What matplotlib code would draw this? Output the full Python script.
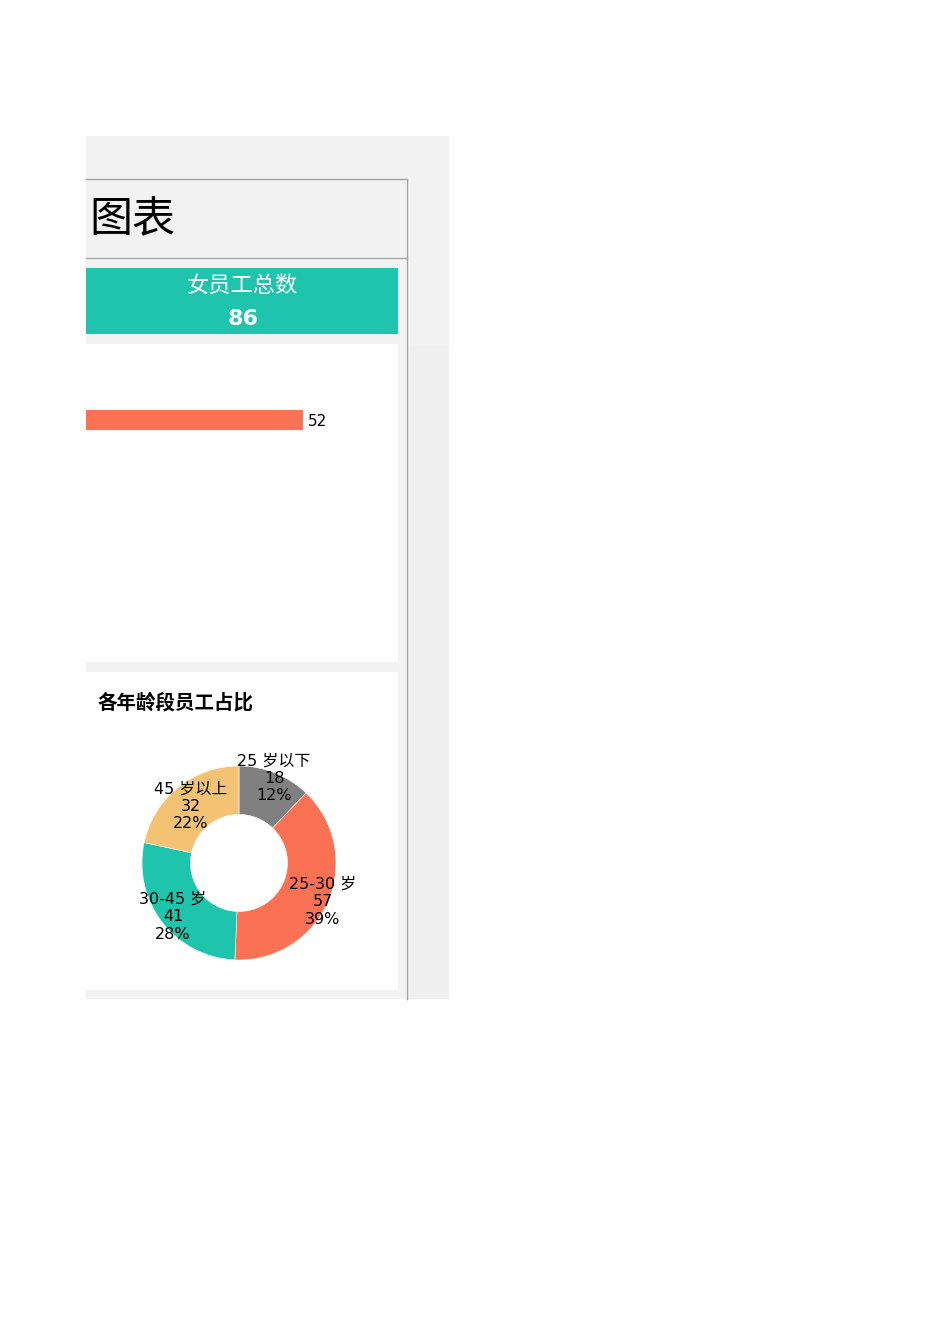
import matplotlib
matplotlib.use("Agg")
import matplotlib.pyplot as plt
from matplotlib.patches import Rectangle
from matplotlib.lines import Line2D
import numpy as np

plt.rcParams['font.family'] = ['DejaVu Sans', 'Noto Sans CJK SC']

# Données
title_text = "图表"
kpi_label = "女员工总数"
kpi_value = 86
bar_categories = ["女员工"]
bar_values = [52]
pie_title = "各年龄段员工占比"
age_labels = ["25 岁以下", "25-30 岁", "30-45 岁", "45 岁以上"]
age_counts = [18, 57, 41, 32]

W, H = 950, 1344
fig = plt.figure(figsize=(W / 100, H / 100), dpi=100)
fig.patch.set_facecolor("white")


def fx(px):
    return px / W


def fy(py):
    return 1 - py / H


def box(x0, y0, x1, y1, color, z=0):
    fig.patches.append(Rectangle((fx(x0), fy(y1)), fx(x1) - fx(x0), fy(y0) - fy(y1),
                                 transform=fig.transFigure, facecolor=color,
                                 edgecolor="none", zorder=z))


def hline(x0, x1, y, color="#a6a6a6"):
    fig.lines.append(Line2D([fx(x0), fx(x1)], [fy(y), fy(y)], transform=fig.transFigure,
                            color=color, lw=1.0, zorder=3))


# Fond gris du tableau de bord
box(86, 136, 449, 999, "#f2f2f2")
box(407, 345, 449, 999, "#f0f0f0", z=0.5)
hline(86, 407, 179)
hline(86, 407, 258)
fig.lines.append(Line2D([fx(407), fx(407)], [fy(179), fy(999)], transform=fig.transFigure,
                        color="#a6a6a6", lw=1.0, zorder=3))

# Titre
fig.text(fx(89), fy(220), title_text, fontsize=31, va="center", ha="left",
         family=['Noto Sans CJK SC'], color="black")

# Bandeau KPI
box(86, 268, 398, 334, "#1fc4ad", z=1)
fig.text(fx(243), fy(285), kpi_label, fontsize=16, color="white", ha="center", va="center",
         family=['Noto Sans CJK SC'])
fig.text(fx(243), fy(319), str(kpi_value), fontsize=16, color="white", ha="center",
         va="center", fontweight="bold")

# Graphique en barres
ax_bar = fig.add_axes([fx(86), fy(662), fx(398) - fx(86), fy(344) - fy(662)])
ax_bar.set_zorder(2)
ax_bar.set_facecolor("white")
ax_bar.barh(bar_categories, bar_values, height=0.6, color="#fb7153")
for i, v in enumerate(bar_values):
    ax_bar.text(v + 1.2, i - 0.05, str(v), va="center", ha="left", fontsize=11)
ax_bar.set_xlim(0, 74.8)
ax_bar.set_ylim(-7.26, 2.28)
ax_bar.set_xticks([])
ax_bar.set_yticks([])
for s in ax_bar.spines.values():
    s.set_visible(False)

# Anneau des tranches d'âge
box(86, 672, 398, 990, "white", z=1)
fig.text(fx(97), fy(703), pie_title, fontsize=14, fontweight="bold", ha="left", va="center",
         family=['Noto Sans CJK SC'], zorder=4)

ax_pie = fig.add_axes([fx(239 - 130), fy(863 + 130), fx(260), fx(260) * W / H])
ax_pie.set_zorder(2)
colors = ["#808080", "#fb7153", "#1fc4ad", "#f3c373"]
ax_pie.pie(age_counts, colors=colors, startangle=90, counterclock=False, radius=1,
           wedgeprops=dict(width=0.5, edgecolor="white", linewidth=0.4))
total = sum(age_counts)
label_r = [0.97, 0.94, 0.86, 0.79]
cum = np.cumsum([0] + age_counts)
for i, (lab, n) in enumerate(zip(age_labels, age_counts)):
    mid = np.deg2rad(90 - (cum[i] + n / 2) / total * 360)
    pct = round(n / total * 100)
    ax_pie.text(label_r[i] * np.cos(mid), label_r[i] * np.sin(mid) - 0.03,
                f"{lab}\n{n}\n{pct}%", ha="center", va="center", fontsize=11.5,
                linespacing=1.2)
ax_pie.set_xlim(-1.34, 1.34)
ax_pie.set_ylim(-1.34, 1.34)
ax_pie.set_aspect("equal")
ax_pie.axis("off")

fig.savefig("out.png", dpi=100, facecolor="white")
